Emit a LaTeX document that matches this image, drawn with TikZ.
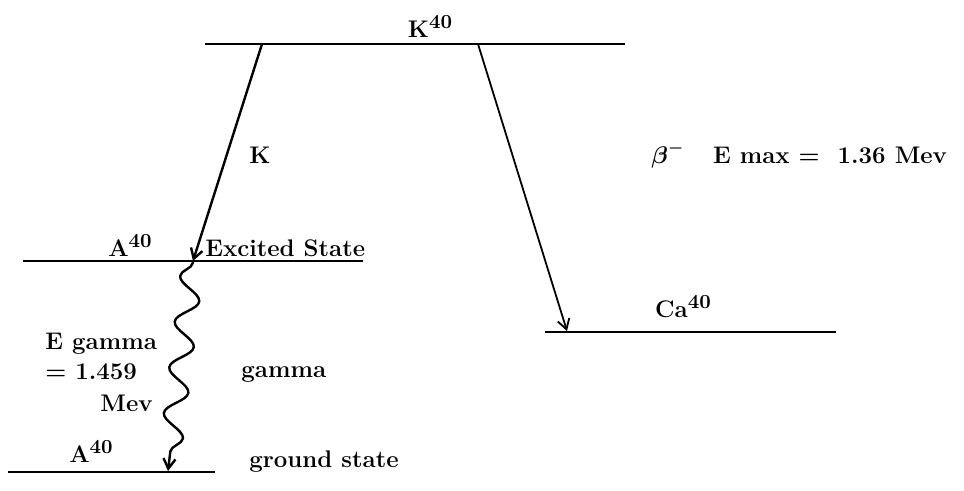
\documentclass[tikz,border=0pt]{standalone}
\usepackage{amsmath,amssymb}
\usepackage{tikz}
\usetikzlibrary{positioning,arrows.meta,decorations.pathmorphing}
\newcommand{\massno}[1]{\raisebox{0.85ex}{\normalsize #1}}

\begin{document}
\begin{tikzpicture}[x=0.5pt, y=-0.5pt, font=\large\bfseries,
    level/.style={line width=1.4pt},
    decay/.style={line width=1.2pt, -{Straight Barb[length=5pt, width=6pt]}},
    lbl/.style={inner sep=0pt}]
  \useasboundingbox (0,0) rectangle (964,491);
  % energy levels
  \coordinate (k1) at (205,44);  \coordinate (k2) at (625,44);
  \coordinate (e1) at (23,261);  \coordinate (e2) at (363,261);
  \coordinate (c1) at (545,332); \coordinate (c2) at (836,332);
  \coordinate (g1) at (8,472);   \coordinate (g2) at (215,472);
  \draw[level] (k1) -- (k2);
  \draw[level] (e1) -- (e2);
  \draw[level, line width=1.1pt] (c1) -- (c2);
  \draw[level, line width=0.8pt] (g1) -- (g2);
  % level labels
  \node[lbl] (kname) at (430,26) {K\massno{40}};
  \node[lbl] (aname) at (130,245) {A\massno{40}};
  \node[lbl, anchor=west] (exc) at (205,248) {Excited State};
  \node[lbl] (caname) at (683,307) {Ca\massno{40}};
  \node[lbl] (gname) at (91,451) {A\massno{40}};
  \node[lbl, anchor=west] (gst) at (249,462) {ground state};
  % transitions
  \coordinate (ka) at (262,44);  \coordinate (ea) at (193,261);
  \coordinate (kb) at (478,44);  \coordinate (cb) at (567,331);
  \coordinate (gb) at (168,471);
  \draw[decay] (ka) -- (ea);
  \draw[decay, line width=0.9pt] (kb) -- (cb);
  \draw[decay, decorate, decoration={snake, amplitude=-5.5pt, segment length=23pt,
        pre length=1pt, post length=8pt}] (ea) -- (gb);
  % transition labels
  \node[lbl] (kcap) at (260,155) {K};
  \node[lbl, anchor=west] (beta) at (651,155) {$\boldsymbol{\beta}^{\boldsymbol{-}}$\hspace{1.2em}E max = \ 1.36 Mev};
  \node[lbl, anchor=west] (eg1) at (45,344) {E gamma};
  \node[lbl, anchor=west] (eg2) at (45,372) {= 1.459};
  \node[lbl, anchor=west] (eg3) at (100,403) {Mev};
  \node[lbl, anchor=west] (gam) at (241,374) {gamma};
\end{tikzpicture}
\end{document}
